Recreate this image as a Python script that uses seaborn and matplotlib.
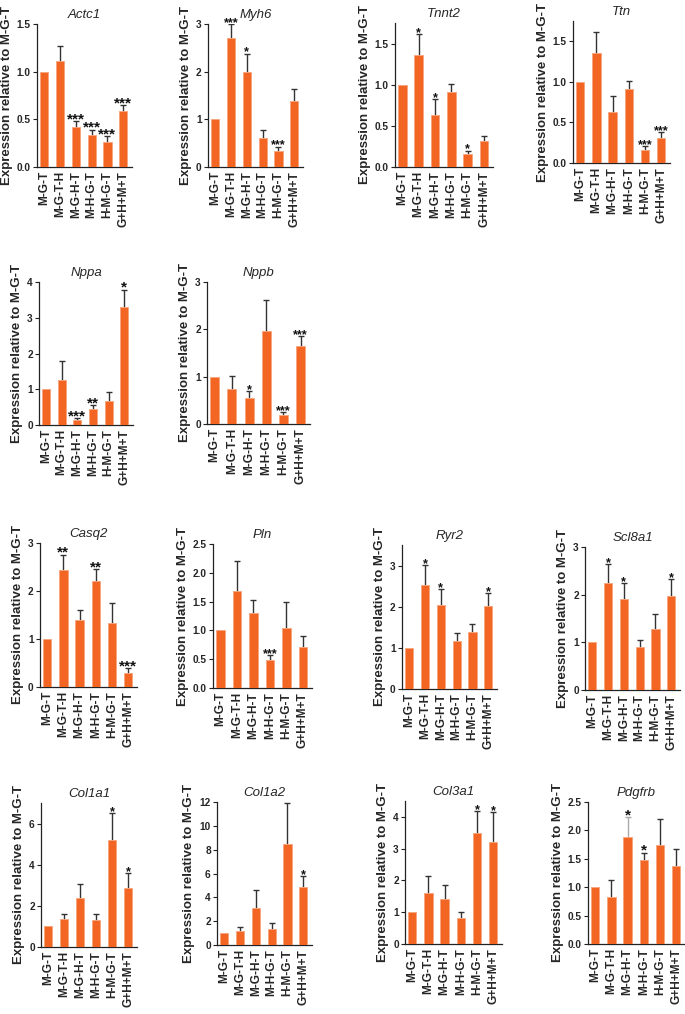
import numpy as np
import pandas as pd
import seaborn as sns
import matplotlib.pyplot as plt

sns.set_theme(style="ticks")
plt.rcParams['font.family'] = ['Liberation Sans', 'DejaVu Sans']

GROUPS = ['M-G-T', 'M-G-T-H', 'M-G-H-T', 'M-H-G-T', 'H-M-G-T', 'G+H+M+T']
BAR_COLOR = '#F26522'
ERR_COLOR = '#333333'

# mean expression relative to M-G-T, and upper error bar end (None = no bar)
actc1 = [1.0, 1.11, 0.42, 0.34, 0.26, 0.59]
actc1_top = [None, 1.27, 0.48, 0.39, 0.32, 0.65]
actc1_sig = ['', '', '***', '***', '***', '***']

myh6 = [1.0, 2.70, 2.0, 0.60, 0.34, 1.39]
myh6_top = [None, 2.99, 2.38, 0.78, 0.43, 1.64]
myh6_sig = ['', '***', '*', '', '***', '']

tnnt2 = [1.0, 1.36, 0.63, 0.91, 0.16, 0.31]
tnnt2_top = [None, 1.62, 0.83, 1.01, 0.20, 0.38]
tnnt2_sig = ['', '*', '*', '', '*', '']

ttn = [1.0, 1.36, 0.63, 0.91, 0.16, 0.31]
ttn_top = [None, 1.62, 0.82, 1.01, 0.21, 0.38]
ttn_sig = ['', '', '', '', '***', '***']

nppa = [1.0, 1.27, 0.14, 0.44, 0.67, 3.29]
nppa_top = [None, 1.80, 0.19, 0.55, 0.91, 3.79]
nppa_sig = ['', '', '***', '**', '', '*']

nppb = [1.0, 0.73, 0.55, 1.96, 0.18, 1.65]
nppb_top = [None, 1.02, 0.69, 2.63, 0.25, 1.86]
nppb_sig = ['', '', '*', '', '***', '***']

casq2 = [1.0, 2.44, 1.40, 2.21, 1.34, 0.30]
casq2_top = [None, 2.76, 1.60, 2.46, 1.74, 0.39]
casq2_sig = ['', '**', '', '**', '', '***']

pln = [1.0, 1.68, 1.31, 0.49, 1.05, 0.72]
pln_top = [None, 2.20, 1.53, 0.57, 1.50, 0.91]
pln_sig = ['', '', '', '***', '', '']

ryr2 = [1.0, 2.52, 2.03, 1.17, 1.38, 2.01]
ryr2_top = [None, 3.02, 2.43, 1.37, 1.59, 2.33]
ryr2_sig = ['', '*', '*', '', '', '*']

scl8a1 = [1.0, 2.25, 1.90, 0.90, 1.27, 1.98]
scl8a1_top = [None, 2.65, 2.25, 1.05, 1.60, 2.32]
scl8a1_sig = ['', '*', '*', '', '', '*']

col1a1 = [1.0, 1.35, 2.37, 1.33, 5.22, 2.89]
col1a1_top = [None, 1.62, 3.06, 1.62, 6.49, 3.61]
col1a1_sig = ['', '', '', '', '*', '*']

col1a2 = [1.0, 1.17, 3.13, 1.37, 8.46, 4.86]
col1a2_top = [None, 1.50, 4.63, 1.87, 11.95, 5.78]
col1a2_sig = ['', '', '', '', '', '*']

col3a1 = [1.0, 1.60, 1.42, 0.82, 3.50, 3.22]
col3a1_top = [None, 2.14, 1.86, 1.00, 4.19, 4.15]
col3a1_sig = ['', '', '', '', '*', '*']

pdgfrb = [1.0, 0.83, 1.89, 1.48, 1.75, 1.38]
pdgfrb_top = [None, 1.12, 2.23, 1.61, 2.20, 1.67]
pdgfrb_sig = ['', '', '*', '*', '', '']

# name, values, tops, stars, y ticks, ylim, tick format, axes box in px (left, top, right, bottom), star size
panels = [
    ('Actc1', actc1, actc1_top, actc1_sig, [0, 0.5, 1.0, 1.5], 1.5, '{:.1f}', (37, 24, 132, 167), 11),
    ('Myh6', myh6, myh6_top, myh6_sig, [0, 1, 2, 3], 3, '{:.0f}', (208, 24, 303, 167), 9),
    ('Tnnt2', tnnt2, tnnt2_top, tnnt2_sig, [0, 0.5, 1.0, 1.5], 1.75, '{:.1f}', (395, 23, 493, 167), 9),
    ('Ttn', ttn, ttn_top, ttn_sig, [0, 0.5, 1.0, 1.5], 1.75, '{:.1f}', (573, 21, 670, 163), 9),
    ('Nppa', nppa, nppa_top, nppa_sig, [0, 1, 2, 3, 4], 4, '{:.0f}', (39, 282, 133, 425), 11),
    ('Nppb', nppb, nppb_top, nppb_sig, [0, 1, 2, 3], 3, '{:.0f}', (207, 282, 310, 424), 9),
    ('Casq2', casq2, casq2_top, casq2_sig, [0, 1, 2, 3], 3, '{:.0f}', (40, 543, 137, 687), 11),
    ('Pln', pln, pln_top, pln_sig, [0, 0.5, 1.0, 1.5, 2.0, 2.5], 2.5, '{:.1f}', (213, 544, 312, 688), 9),
    ('Ryr2', ryr2, ryr2_top, ryr2_sig, [0, 1, 2, 3], 3.5, '{:.0f}', (402, 545, 497, 689), 9),
    ('Scl8a1', scl8a1, scl8a1_top, scl8a1_sig, [0, 1, 2, 3], 3, '{:.0f}', (585, 547, 680, 690), 9),
    ('Col1a1', col1a1, col1a1_top, col1a1_sig, [0, 2, 4, 6], 7, '{:.0f}', (41, 803, 137, 947), 9),
    ('Col1a2', col1a2, col1a2_top, col1a2_sig, [0, 2, 4, 6, 8, 10, 12], 12, '{:.0f}', (217, 802, 312, 945), 9),
    ('Col3a1', col3a1, col3a1_top, col3a1_sig, [0, 1, 2, 3, 4], 4.5, '{:.0f}', (405, 801, 502, 944), 9),
    ('Pdgfrb', pdgfrb, pdgfrb_top, pdgfrb_sig, [0, 0.5, 1.0, 1.5, 2.0, 2.5], 2.5, '{:.1f}', (588, 802, 685, 944), 11),
]

W, H = 685, 1014
fig = plt.figure(figsize=(W / 100, H / 100), dpi=100)

for name, vals, tops, sig, yticks, ytop, fmt, box, star_size in panels:
    l, t, r, b = box
    ax = fig.add_axes([l / W, 1 - b / H, (r - l) / W, (b - t) / H])
    df = pd.DataFrame({'group': GROUPS, 'value': vals})
    sns.barplot(data=df, x='group', y='value', color=BAR_COLOR, saturation=1,
                width=0.52, edgecolor='#F7A47C', linewidth=0.6, zorder=3, ax=ax)

    idx = [i for i, tp in enumerate(tops) if tp is not None]
    ys = np.array([vals[i] for i in idx])
    ups = np.array([tops[i] for i in idx]) - ys
    ecol = ['#aaaaaa' if (name == 'Pdgfrb' and i == 2) else ERR_COLOR for i in idx]
    for k, i in enumerate(idx):
        eb = ax.errorbar(i, ys[k], yerr=[[0], [ups[k]]], fmt='none', ecolor=ecol[k],
                         elinewidth=1.0, capsize=2.2, capthick=1.0, zorder=2)
        eb[1][0].set_visible(False)

    for i, s in enumerate(sig):
        if s:
            y_at = tops[i] if tops[i] is not None else vals[i]
            ax.annotate(s, (i, y_at), xytext=(0, -1.5), textcoords='offset points',
                        ha='center', va='baseline', fontsize=star_size,
                        fontweight='bold', color='#111111')

    ax.set_xlim(-0.45, 5.55)
    ax.set_ylim(0, ytop)
    ax.set_yticks(yticks)
    ax.set_yticklabels([fmt.format(v) for v in yticks], fontsize=7.3, fontweight='bold')
    ax.set_xticks(range(len(GROUPS)))
    ax.set_xticklabels(GROUPS, rotation=90, fontsize=8.6, fontweight='bold')
    ax.set_xlabel('')
    ax.set_ylabel('Expression relative to M-G-T', fontsize=9.5, fontweight='bold', labelpad=3)
    ax.set_title(name, fontsize=9.5, style='italic', pad=4)
    ax.tick_params(axis='both', length=3, width=0.8, pad=1.5, color='#222222')
    ax.tick_params(axis='x', length=0, pad=3)
    sns.despine(ax=ax)
    for sp in ['left', 'bottom']:
        ax.spines[sp].set_linewidth(0.9)
        ax.spines[sp].set_color('#222222')

fig.savefig('out.png', dpi=100)
